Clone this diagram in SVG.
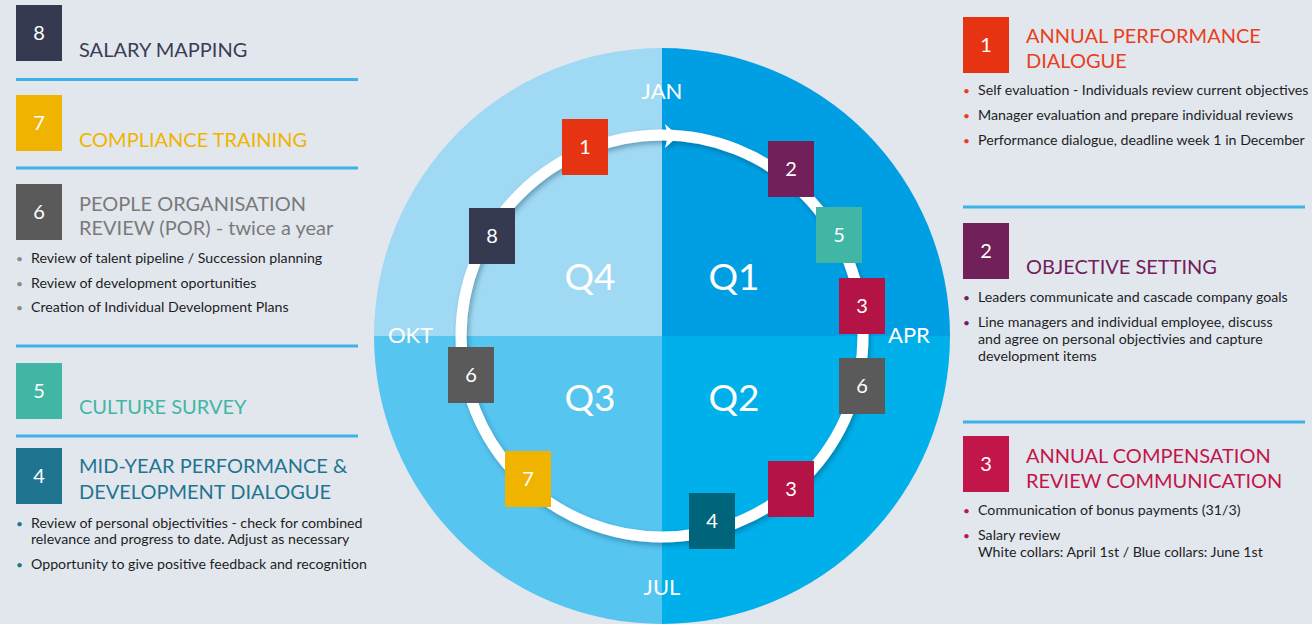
<svg xmlns="http://www.w3.org/2000/svg" width="1312" height="624" viewBox="0 0 1312 624">
<defs>
<style>
.bg{fill:#E2E7EE}
.num{font-family:Lato,"Noto Sans",sans-serif;font-size:20px;fill:#fff;text-anchor:middle}
.ttl{font-family:Lato,"Noto Sans",sans-serif;font-size:20px}
.bt{font-family:Lato,"Noto Sans",sans-serif;font-size:14.2px;fill:#1e1e1e}
.bul{font-family:Lato,"Noto Sans",sans-serif;font-size:12px}
.sep{stroke:#3DB2E6;stroke-width:3}
.mon{font-family:Lato,"Noto Sans",sans-serif;font-size:22px;fill:#fff}
.q{font-family:Lato,"Noto Sans",sans-serif;font-size:37px;fill:#fff;text-anchor:middle}
</style>
<filter id="sh" x="-20%" y="-20%" width="140%" height="140%">
<feDropShadow dx="2" dy="3" stdDeviation="2.5" flood-color="#003050" flood-opacity="0.35"/>
</filter>
</defs>
<rect class="bg" x="0" y="0" width="1312" height="624"/>

<g id="wheel">
<path d="M662,336 L662,48 A288,288 0 0 0 374,336 Z" fill="#A0D9F3"/>
<path d="M662,336 L662,48 A288,288 0 0 1 950,336 Z" fill="#009FE3"/>
<path d="M662,336 L374,336 A288,288 0 0 0 662,624 Z" fill="#56C5F0"/>
<path d="M662,336 L950,336 A288,288 0 0 1 662,624 Z" fill="#00B0EA"/>
<text class="mon" x="662" y="99" text-anchor="middle">JAN</text>
<text class="mon" x="888" y="343">APR</text>
<text class="mon" x="662" y="595" text-anchor="middle">JUL</text>
<text class="mon" x="388" y="343">OKT</text>
<text class="q" x="590" y="290">Q4</text>
<text class="q" x="734" y="290">Q1</text>
<text class="q" x="590" y="411">Q3</text>
<text class="q" x="734" y="411">Q2</text>
</g>

<g id="connectors">
<g filter="url(#sh)">
<circle cx="662" cy="336" r="201" fill="none" stroke="#fff" stroke-width="11"/>
<path d="M665,124 L678,136 L665,148 L668,136 Z" fill="#fff"/>
</g>
</g>

<g id="ring-markers">
<g id="m1"><rect x="562" y="119" width="46" height="56" fill="#E63312"/><text class="num" x="585" y="154">1</text></g>
<g id="m8"><rect x="469" y="208" width="46" height="56" fill="#363A50"/><text class="num" x="492" y="243">8</text></g>
<g id="m2"><rect x="768" y="141" width="46" height="56" fill="#72205A"/><text class="num" x="791" y="176">2</text></g>
<g id="m5"><rect x="816" y="207" width="46" height="56" fill="#42B6A4"/><text class="num" x="839" y="242">5</text></g>
<g id="m3a"><rect x="839" y="278" width="46" height="56" fill="#B41445"/><text class="num" x="862" y="313">3</text></g>
<g id="m6a"><rect x="839" y="358" width="46" height="56" fill="#5A5A5A"/><text class="num" x="862" y="393">6</text></g>
<g id="m3b"><rect x="768" y="461" width="46" height="56" fill="#B41445"/><text class="num" x="791" y="496">3</text></g>
<g id="m4"><rect x="689" y="493" width="46" height="56" fill="#00647A"/><text class="num" x="712" y="528">4</text></g>
<g id="m6b"><rect x="448" y="347" width="46" height="56" fill="#5A5A5A"/><text class="num" x="471" y="382">6</text></g>
<g id="m7"><rect x="505" y="451" width="46" height="56" fill="#F0B400"/><text class="num" x="528" y="486">7</text></g>
</g>

<g id="item8">
<rect x="16" y="5" width="46" height="56" fill="#363A50"/><text class="num" x="39" y="40">8</text>
<text class="ttl" x="79" y="57" fill="#3A3D55">SALARY MAPPING</text>
<line class="sep" x1="16" y1="79.5" x2="358" y2="79.5"/>
</g>
<g id="item7">
<rect x="16" y="95" width="46" height="56" fill="#F0B400"/><text class="num" x="39" y="130">7</text>
<text class="ttl" x="79" y="147" fill="#F0B400">COMPLIANCE TRAINING</text>
<line class="sep" x1="16" y1="168" x2="358" y2="168"/>
</g>
<g id="item6">
<rect x="16" y="184" width="46" height="56" fill="#5A5A5A"/><text class="num" x="39" y="219">6</text>
<text class="ttl" x="79" y="211" fill="#7A7A7A">PEOPLE ORGANISATION</text>
<text class="ttl" x="79" y="235" fill="#7A7A7A">REVIEW (POR) - twice a year</text>
<text class="bul" x="16" y="263" fill="#8A8A8A">•</text><text class="bt" x="31" y="263">Review of talent pipeline / Succession planning</text>
<text class="bul" x="16" y="288" fill="#8A8A8A">•</text><text class="bt" x="31" y="288">Review of development oportunities</text>
<text class="bul" x="16" y="312" fill="#8A8A8A">•</text><text class="bt" x="31" y="312">Creation of Individual Development Plans</text>
<line class="sep" x1="16" y1="346" x2="358" y2="346"/>
</g>
<g id="item5">
<rect x="16" y="363" width="46" height="56" fill="#42B6A4"/><text class="num" x="39" y="398">5</text>
<text class="ttl" x="79" y="414" fill="#42B6A4">CULTURE SURVEY</text>
<line class="sep" x1="16" y1="436" x2="358" y2="436"/>
</g>
<g id="item4">
<rect x="16" y="448" width="46" height="56" fill="#1F7590"/><text class="num" x="39" y="483">4</text>
<text class="ttl" x="79" y="473" fill="#1F7590">MID-YEAR PERFORMANCE &amp;</text>
<text class="ttl" x="79" y="499" fill="#1F7590">DEVELOPMENT DIALOGUE</text>
<text class="bul" x="16" y="528" fill="#1F7590">•</text><text class="bt" x="31" y="528">Review of personal objectivities - check for combined</text>
<text class="bt" x="31" y="544">relevance and progress to date. Adjust as necessary</text>
<text class="bul" x="16" y="569" fill="#1F7590">•</text><text class="bt" x="31" y="569">Opportunity to give positive feedback and recognition</text>
</g>

<g id="item1">
<rect x="963" y="17" width="46" height="56" fill="#E63312"/><text class="num" x="986" y="52">1</text>
<text class="ttl" x="1026" y="43" fill="#E8401C">ANNUAL PERFORMANCE</text>
<text class="ttl" x="1026" y="68" fill="#E8401C">DIALOGUE</text>
<text class="bul" x="963" y="95" fill="#E8401C">•</text><text class="bt" x="978" y="95">Self evaluation - Individuals review current objectives</text>
<text class="bul" x="963" y="120" fill="#E8401C">•</text><text class="bt" x="978" y="120">Manager evaluation and prepare individual reviews</text>
<text class="bul" x="963" y="145" fill="#E8401C">•</text><text class="bt" x="978" y="145">Performance dialogue, deadline week 1 in December</text>
<line class="sep" x1="963" y1="207" x2="1305" y2="207"/>
</g>
<g id="item2">
<rect x="963" y="223" width="46" height="56" fill="#72205A"/><text class="num" x="986" y="258">2</text>
<text class="ttl" x="1026" y="274" fill="#72205A">OBJECTIVE SETTING</text>
<text class="bul" x="963" y="302" fill="#72205A">•</text><text class="bt" x="978" y="302">Leaders communicate and cascade company goals</text>
<text class="bul" x="963" y="327" fill="#72205A">•</text><text class="bt" x="978" y="327">Line managers and individual employee, discuss</text>
<text class="bt" x="978" y="344">and agree on personal objectivies and capture</text>
<text class="bt" x="978" y="361">development items</text>
<line class="sep" x1="963" y1="422" x2="1305" y2="422"/>
</g>
<g id="item3">
<rect x="963" y="436" width="46" height="56" fill="#C2164A"/><text class="num" x="986" y="471">3</text>
<text class="ttl" x="1026" y="463" fill="#C2164A">ANNUAL COMPENSATION</text>
<text class="ttl" x="1026" y="488" fill="#C2164A">REVIEW COMMUNICATION</text>
<text class="bul" x="963" y="515" fill="#C2164A">•</text><text class="bt" x="978" y="515">Communication of bonus payments (31/3)</text>
<text class="bul" x="963" y="540" fill="#C2164A">•</text><text class="bt" x="978" y="540">Salary review</text>
<text class="bt" x="978" y="557">White collars: April 1st / Blue collars: June 1st</text>
</g>
</svg>
